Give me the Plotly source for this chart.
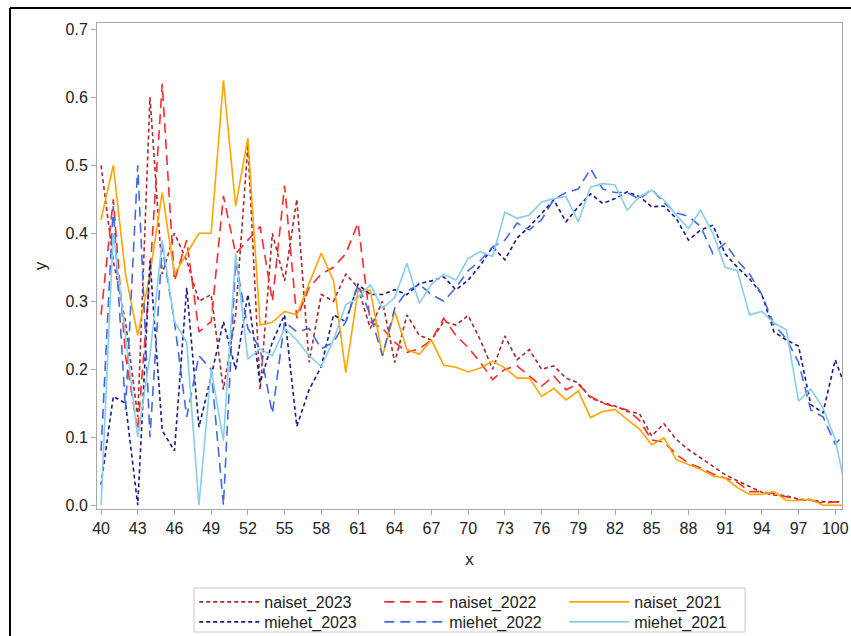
import plotly.graph_objects as go

ages = list(range(40, 102))

naiset_2023 = [0.50, 0.36, 0.27, 0.13, 0.60, 0.34, 0.40, 0.36, 0.30, 0.31,
               0.17, 0.28, 0.53, 0.17, 0.40, 0.33, 0.45, 0.21, 0.31, 0.30,
               0.34, 0.32, 0.26, 0.30, 0.21, 0.28, 0.25, 0.243, 0.27, 0.265,
               0.279, 0.243, 0.20, 0.249, 0.214, 0.229, 0.20, 0.205, 0.187, 0.18,
               0.158, 0.151, 0.146, 0.138, 0.135, 0.102, 0.12, 0.097, 0.082, 0.070,
               0.058, 0.045, 0.036, 0.028, 0.019, 0.015, 0.014, 0.009, 0.008, 0.005,
               0.005, 0.005]

naiset_2022 = [0.28, 0.45, 0.22, 0.11, 0.34, 0.62, 0.33, 0.39, 0.255, 0.27,
               0.455, 0.37, 0.39, 0.41, 0.30, 0.47, 0.275, 0.32, 0.34, 0.35,
               0.37, 0.415, 0.27, 0.26, 0.24, 0.225, 0.23, 0.243, 0.275, 0.25,
               0.232, 0.21, 0.185, 0.20, 0.205, 0.19, 0.175, 0.19, 0.17, 0.178,
               0.16, 0.15, 0.145, 0.14, 0.125, 0.096, 0.093, 0.075, 0.062, 0.055,
               0.046, 0.040, 0.034, 0.020, 0.020, 0.017, 0.012, 0.008, 0.007, 0.003,
               0.005, 0.005]

naiset_2021 = [0.42, 0.50, 0.34, 0.25, 0.34, 0.46, 0.34, 0.37, 0.40, 0.40,
               0.625, 0.44, 0.54, 0.265, 0.269, 0.285, 0.28, 0.326, 0.371, 0.33,
               0.195, 0.316, 0.316, 0.22, 0.285, 0.229, 0.222, 0.243, 0.206, 0.203,
               0.196, 0.202, 0.212, 0.202, 0.187, 0.187, 0.160, 0.172, 0.155, 0.168,
               0.129, 0.138, 0.141, 0.126, 0.112, 0.089, 0.099, 0.067, 0.060, 0.053,
               0.043, 0.040, 0.026, 0.016, 0.016, 0.020, 0.007, 0.007, 0.009, 0.0,
               0.0, 0.0]

miehet_2023 = [0.03, 0.16, 0.15, 0.0, 0.36, 0.11, 0.08, 0.32, 0.115, 0.19,
               0.27, 0.20, 0.31, 0.18, 0.24, 0.28, 0.116, 0.17, 0.204, 0.28,
               0.27, 0.325, 0.31, 0.31, 0.317, 0.31, 0.326, 0.33, 0.336, 0.317,
               0.331, 0.353, 0.38, 0.361, 0.393, 0.41, 0.429, 0.449, 0.417, 0.439,
               0.458, 0.444, 0.451, 0.461, 0.454, 0.439, 0.44, 0.422, 0.39, 0.405,
               0.412, 0.37, 0.35, 0.333, 0.31, 0.255, 0.243, 0.234, 0.148, 0.136,
               0.214, 0.165]

miehet_2022 = [0.08, 0.44, 0.14, 0.50, 0.10, 0.38, 0.27, 0.13, 0.22, 0.20,
               0.0, 0.36, 0.26, 0.23, 0.135, 0.27, 0.255, 0.26, 0.23, 0.24,
               0.27, 0.325, 0.28, 0.22, 0.29, 0.315, 0.325, 0.31, 0.30, 0.32,
               0.345, 0.36, 0.38, 0.39, 0.415, 0.405, 0.42, 0.45, 0.46, 0.465,
               0.495, 0.465, 0.46, 0.46, 0.45, 0.465, 0.445, 0.43, 0.425, 0.41,
               0.37, 0.385, 0.36, 0.34, 0.31, 0.265, 0.245, 0.21, 0.14, 0.13,
               0.09, 0.11]

miehet_2021 = [0.0, 0.40, 0.25, 0.10, 0.22, 0.39, 0.27, 0.24, 0.0, 0.20,
               0.095, 0.37, 0.215, 0.23, 0.22, 0.26, 0.243, 0.22, 0.204, 0.243,
               0.295, 0.305, 0.324, 0.29, 0.305, 0.356, 0.297, 0.325, 0.34, 0.331,
               0.363, 0.373, 0.366, 0.431, 0.422, 0.427, 0.446, 0.451, 0.454, 0.417,
               0.468, 0.473, 0.471, 0.434, 0.454, 0.463, 0.449, 0.427, 0.407, 0.434,
               0.40, 0.35, 0.345, 0.28, 0.285, 0.268, 0.258, 0.153, 0.171, 0.143,
               0.097, 0.01]

x_ticks = list(range(40, 101, 3)) + [100]
y_ticks = [0.0, 0.1, 0.2, 0.3, 0.4, 0.5, 0.6, 0.7]

# (name, values, colour, dash, legend row)
series = [
    ("naiset_2023", naiset_2023, "#A52A2A", "4px,3px", "legend"),
    ("naiset_2022", naiset_2022, "#FF2A2A", "10px,6px", "legend"),
    ("naiset_2021", naiset_2021, "#FFA500", "solid", "legend"),
    ("miehet_2023", miehet_2023, "#1A1A85", "4px,3px", "legend2"),
    ("miehet_2022", miehet_2022, "#4169E1", "10px,6px", "legend2"),
    ("miehet_2021", miehet_2021, "#87CEEB", "solid", "legend2"),
]

fig = go.Figure()
for name, vals, color, dash, leg in series:
    fig.add_trace(go.Scatter(
        x=ages, y=vals, name=name, mode="lines", legend=leg,
        line=dict(color=color, width=1.6, dash=dash),
    ))

font_family = "Liberation Sans, Arial, sans-serif"
axis_color = "#A8A8A8"
legend_font = dict(family=font_family, size=16, color="#222222")


def legend_row(y_center):
    return dict(
        orientation="h", x=0.503, xanchor="center",
        y=y_center, yanchor="middle",
        borderwidth=0, bgcolor="rgba(0,0,0,0)",
        font=legend_font,
        entrywidth=110, entrywidthmode="pixels", itemwidth=60,
    )


fig.update_layout(
    width=851, height=636,
    margin=dict(l=97, r=9, t=23, b=127, autoexpand=False),
    paper_bgcolor="white", plot_bgcolor="white",
    font=dict(family=font_family, size=16, color="#222222"),
    showlegend=True,
    legend=legend_row(-0.1914),
    legend2=legend_row(-0.2325),
    xaxis=dict(
        range=[39.67, 100.55], tickmode="array", tickvals=x_ticks,
        ticks="outside", ticklen=5, tickcolor=axis_color,
        showline=True, linecolor=axis_color, linewidth=1, mirror=True,
        showgrid=False, zeroline=False,
        title=dict(text="x", standoff=16, font=dict(size=17)),
    ),
    yaxis=dict(
        range=[-0.0055, 0.7093], tickmode="array", tickvals=y_ticks,
        ticktext=[f"{v:.1f}" for v in y_ticks],
        ticks="outside", ticklen=5, tickcolor=axis_color,
        showline=True, linecolor=axis_color, linewidth=1, mirror=True,
        showgrid=False, zeroline=False,
        title=dict(text="y", standoff=14, font=dict(size=17)),
    ),
    shapes=[
        # legend frame
        dict(type="rect", xref="paper", yref="paper",
             x0=0.1302, x1=0.8698, y0=-0.1626, y1=-0.2531,
             line=dict(color="#C8C8C8", width=1), layer="below"),
        # outer frame lines
        dict(type="line", xref="paper", yref="paper",
             x0=-0.1168, x1=1.02, y0=1.0309, y1=1.0309,
             line=dict(color="black", width=2)),
        dict(type="line", xref="paper", yref="paper",
             x0=-0.1168, x1=-0.1168, y0=1.0309, y1=-0.27,
             line=dict(color="black", width=2)),
    ],
)

fig.write_html("out.html")
